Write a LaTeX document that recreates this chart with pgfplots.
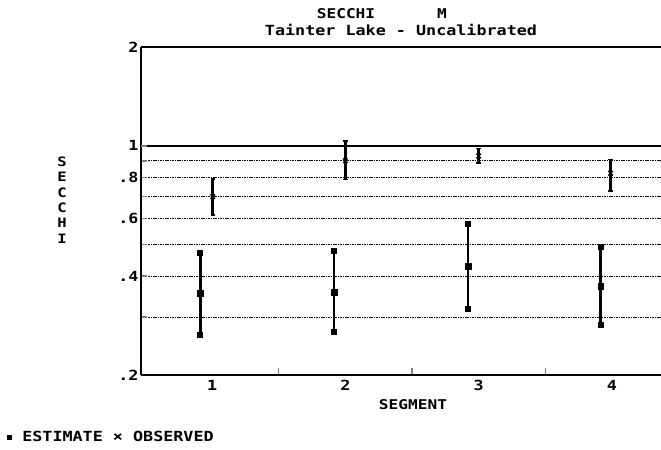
\documentclass[border=0pt]{standalone}
\usepackage{pgfplots}
\pgfplotsset{compat=1.18}
\usepackage{fontspec}
\newfontfamily\mono[FakeStretch=1.2]{DejaVu Sans Mono}
\begin{document}
\begin{tikzpicture}[x=1bp,y=1bp]
\useasboundingbox (-141,-75) rectangle (520,375);
\begin{axis}[
  at={(0,0)}, anchor=south west, scale only axis,
  width=537.6bp, height=328bp,
  ymode=log, ymin=0.2, ymax=2, xmin=0.467, xmax=4.5,
  axis x line*=box, axis y line*=left,
  axis line style={line width=2.2bp},
  unbounded coords=jump,
  xtick={1,2,3,4}, xticklabels={1,2,3,4}, xtick pos=lower,
  major x tick style={draw=none},
  minor xtick={1.5,2.5,3.5}, minor tick length=7bp,
  minor x tick style={line width=1.5bp},
  ytick={0.2,0.3,0.4,0.5,0.6,0.7,0.8,0.9,2},
  yticklabels={.2,,.4,,.6,,.8,,2},
  extra y ticks={1}, extra y tick labels={1},
  extra y tick style={grid style={solid, line width=2.2bp, black}},
  ytick pos=left, yminorticks=false,
  major tick length=6bp,
  y tick style={line width=1.6bp},
  ymajorgrids,
  grid style={black, line width=1.3bp, dash pattern=on 1.5bp off 0.9bp},
  tick label style={font=\mono\bfseries\fontsize{14}{15}\selectfont},
  xticklabel style={yshift=-2bp},
  yticklabel style={xshift=1bp},
]
% estimate bars
\addplot[black, line width=2.8bp, mark=square*, mark size=1.5bp] coordinates {
  (0.912,0.265) (0.912,0.472) (1.4,nan)
  (1.915,0.270) (1.915,0.477) (2.4,nan)
  (2.920,0.318) (2.920,0.577) (3.4,nan)
  (3.917,0.284) (3.917,0.492)
};
% estimate values
\addplot[black, only marks, mark=square*, mark size=2.8bp] coordinates {
  (0.912,0.355) (1.915,0.358) (2.920,0.430) (3.917,0.373)
};
% observed bars
\addplot[black, line width=2.9bp, mark=-, mark size=2.2bp, mark options={line width=1.6bp}] coordinates {
  (1.005,0.615) (1.005,0.792) (1.5,nan)
  (2.000,0.790) (2.000,1.033) (2.5,nan)
  (3.000,0.884) (3.000,0.982) (3.5,nan)
  (3.990,0.729) (3.990,0.909)
};
% observed values
\addplot[black, only marks, mark=x, mark size=3.2bp, mark options={line width=1.4bp}] coordinates {
  (1.005,0.700) (2.000,0.900) (3.000,0.930) (3.990,0.824)
};
\end{axis}
\begin{scope}[every node/.style={inner sep=0pt}]
\node[font=\mono\bfseries\fontsize{13.5}{14}\selectfont] at (205,361) {SECCHI};
\node[font=\mono\bfseries\fontsize{13.5}{14}\selectfont] at (301,361) {M};
\node[font=\mono\bfseries\fontsize{14}{15}\selectfont] at (260,345) {Tainter Lake - Uncalibrated};
\node[font=\mono\bfseries\fontsize{13.5}{14}\selectfont] at (272,-30) {SEGMENT};
\node[font=\mono\bfseries\fontsize{13}{15.4}\selectfont, align=center] at (-79,175) {S\\E\\C\\C\\H\\I};
\node[font=\mono\bfseries\fontsize{14}{15}\selectfont, anchor=west] at (-134,-61) {\raisebox{1.5bp}{\rule{5bp}{5bp}} ESTIMATE × OBSERVED};
\end{scope}
\end{tikzpicture}
\end{document}
